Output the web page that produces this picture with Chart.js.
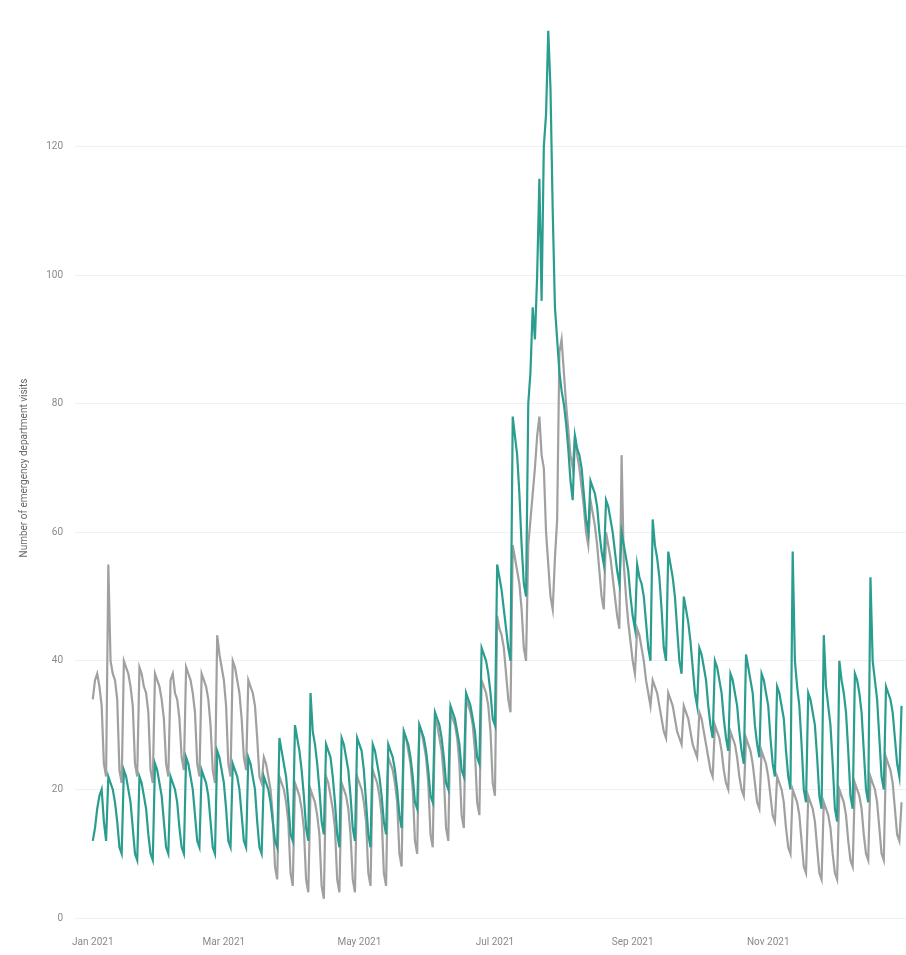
<!DOCTYPE html>
<html>
<head>
<meta charset="utf-8">
<script src="https://cdn.jsdelivr.net/npm/chart.js@4"></script>
<style>
  html, body { margin: 0; padding: 0; background: #fff; }
  #wrap { width: 906px; height: 955px; }
</style>
</head>
<body>
<div id="wrap"><canvas id="c" width="906" height="955"></canvas></div>
<script>
// Day of year (0 = 1 Jan 2021) where each labelled month begins
const monthTickDays = [0, 59, 120, 181, 243, 304];
const monthTickLabels = ['Jan 2021', 'Mar 2021', 'May 2021', 'Jul 2021', 'Sep 2021', 'Nov 2021'];
const yTickValues = [0, 20, 40, 60, 80, 100, 120];

// Daily values, one row per week
const seriesGrey = [
  34, 37, 38, 36, 33, 24, 22,
  55, 40, 38, 37, 34, 23, 21,
  40, 39, 38, 36, 33, 24, 22,
  39, 38, 36, 35, 32, 23, 21,
  38, 37, 36, 34, 31, 24, 22,
  37, 38, 35, 34, 31, 25, 23,
  39, 38, 37, 35, 32, 24, 22,
  38, 37, 36, 34, 30, 23, 21,
  44, 41, 39, 37, 33, 24, 22,
  40, 39, 37, 35, 31, 25, 23,
  37, 36, 35, 33, 28, 22, 21,
  25, 24, 22, 20, 16, 8, 6,
  22, 21, 20, 18, 15, 7, 5,
  21, 20, 19, 17, 14, 6, 4,
  20, 19, 18, 16, 13, 5, 3,
  22, 21, 19, 17, 14, 6, 4,
  21, 20, 19, 17, 13, 6, 4,
  22, 21, 20, 18, 15, 7, 5,
  23, 22, 21, 19, 16, 7, 5,
  25, 24, 23, 21, 18, 10, 8,
  29, 28, 26, 24, 20, 12, 10,
  30, 29, 27, 25, 21, 13, 11,
  31, 30, 28, 26, 22, 14, 12,
  32, 31, 30, 28, 24, 16, 14,
  34, 33, 32, 30, 26, 18, 16,
  37, 36, 35, 33, 29, 21, 19,
  47, 45, 44, 42, 38, 34, 32,
  58, 56, 54, 52, 48, 42, 40,
  58, 62, 66, 70, 75, 78, 72,
  70, 60, 55, 50, 48, 56, 62,
  88, 90, 85, 80, 76, 72, 70,
  75, 72, 70, 67, 64, 60, 58,
  65, 63, 61, 58, 54, 50, 48,
  60, 58, 56, 53, 50, 47, 45,
  72, 55, 50, 46, 43, 40, 38,
  45, 44, 42, 40, 37, 35, 33,
  37, 36, 35, 33, 31, 29, 28,
  35, 34, 33, 31, 29, 28, 27,
  33, 32, 31, 29, 27, 26, 25,
  32, 31, 29, 27, 25, 23, 22,
  30, 29, 28, 26, 23, 21, 20,
  29, 28, 27, 25, 22, 20, 19,
  28, 27, 26, 24, 21, 18, 17,
  26, 25, 24, 22, 19, 16, 15,
  22, 21, 20, 18, 14, 11, 10,
  20, 19, 18, 16, 12, 8, 7,
  19, 18, 17, 15, 11, 7, 6,
  18, 17, 16, 14, 10, 7, 6,
  20, 19, 18, 16, 12, 9, 8,
  21, 20, 19, 17, 13, 10, 9,
  22, 21, 20, 18, 14, 10, 9,
  25, 24, 23, 21, 17, 13, 12,
  18
];

const seriesTeal = [
  12, 14, 17, 19, 20, 15, 12,
  22, 21, 20, 18, 15, 11, 10,
  23, 22, 20, 18, 14, 10, 9,
  22, 21, 19, 17, 13, 10, 9,
  24, 23, 21, 19, 15, 11, 10,
  22, 21, 20, 18, 14, 11, 10,
  25, 24, 22, 20, 16, 12, 11,
  23, 22, 21, 19, 15, 11, 10,
  26, 25, 23, 21, 17, 12, 11,
  24, 23, 22, 20, 16, 12, 11,
  25, 24, 22, 20, 15, 11, 10,
  22, 21, 20, 18, 15, 12, 11,
  28, 26, 24, 22, 18, 13, 12,
  30, 28, 26, 23, 19, 14, 12,
  35, 29, 27, 24, 20, 15, 13,
  27, 26, 25, 22, 18, 13, 11,
  28, 27, 25, 23, 19, 14, 12,
  28, 27, 26, 23, 18, 13, 11,
  27, 26, 24, 22, 19, 15, 13,
  27, 26, 25, 23, 20, 16, 14,
  29, 28, 27, 25, 22, 18, 17,
  30, 29, 28, 26, 23, 19, 18,
  32, 31, 30, 28, 25, 21, 20,
  33, 32, 31, 29, 27, 23, 22,
  35, 34, 33, 31, 29, 25, 24,
  42, 41, 40, 38, 35, 31, 30,
  55, 53, 51, 48, 45, 42, 40,
  78, 75, 72, 66, 58, 52, 50,
  80, 85, 95, 90, 100, 115, 96,
  120, 125, 138, 129, 110, 95, 90,
  85, 82, 80, 77, 73, 68, 65,
  75, 73, 72, 70, 66, 62, 60,
  68, 67, 66, 64, 60, 57, 55,
  65, 64, 62, 60, 57, 54, 52,
  60, 58, 56, 54, 50, 47, 45,
  55, 53, 52, 50, 46, 42, 40,
  62, 58, 56, 53, 48, 42, 40,
  57, 55, 53, 50, 45, 40, 38,
  50, 48, 46, 43, 39, 35, 33,
  42, 41, 39, 37, 33, 30, 28,
  40, 39, 37, 35, 31, 28, 26,
  38, 37, 35, 33, 29, 26, 24,
  41, 39, 37, 35, 30, 27, 25,
  38, 37, 35, 33, 28, 24, 22,
  36, 35, 33, 31, 26, 22, 20,
  57, 40, 36, 33, 27, 20, 18,
  35, 34, 32, 30, 25, 19, 17,
  44, 36, 33, 30, 24, 17, 15,
  40, 37, 35, 32, 26, 19, 17,
  38, 37, 35, 32, 26, 20, 18,
  53, 40, 37, 34, 28, 22, 20,
  36, 35, 34, 32, 28, 24, 22,
  33
];

const toPoints = arr => arr.map((v, i) => ({ x: i, y: v }));

new Chart(document.getElementById('c'), {
  type: 'line',
  data: {
    datasets: [
      {
        label: 'Teal',
        data: toPoints(seriesTeal),
        borderColor: '#2a9d8f',
        borderWidth: 2.2,
        pointRadius: 0,
        tension: 0,
        order: 1
      },
      {
        label: 'Grey',
        data: toPoints(seriesGrey),
        borderColor: '#a0a0a0',
        borderWidth: 2.2,
        pointRadius: 0,
        tension: 0,
        order: 2
      }
    ]
  },
  options: {
    responsive: false,
    animation: false,
    layout: { padding: { top: 6, right: 0, left: 0, bottom: 0 } },
    plugins: { legend: { display: false }, tooltip: { enabled: false } },
    scales: {
      x: {
        type: 'linear',
        min: -8,
        max: 366,
        afterBuildTicks: s => { s.ticks = monthTickDays.map(v => ({ value: v })); },
        afterFit: s => { s.height = 37; },
        grid: { display: false, drawTicks: false },
        border: { display: false },
        ticks: {
          autoSkip: false,
          maxRotation: 0,
          padding: 18,
          color: '#8a8a8a',
          font: { family: 'Roboto', size: 10 },
          callback: v => monthTickLabels[monthTickDays.indexOf(v)] ?? ''
        }
      },
      y: {
        min: 0,
        max: 140,
        afterBuildTicks: s => { s.ticks = yTickValues.map(v => ({ value: v })); },
        afterFit: s => { s.width = 75; },
        grid: { color: '#f0f0f0', drawTicks: false },
        border: { display: false },
        ticks: {
          padding: 12,
          color: '#8a8a8a',
          font: { family: 'Roboto', size: 10 }
        },
        title: {
          display: true,
          text: 'Number of emergency department visits',
          color: '#666',
          font: { family: 'Roboto', size: 10 },
          padding: { top: 18, bottom: 0 }
        }
      }
    }
  }
});
</script>
</body>
</html>
